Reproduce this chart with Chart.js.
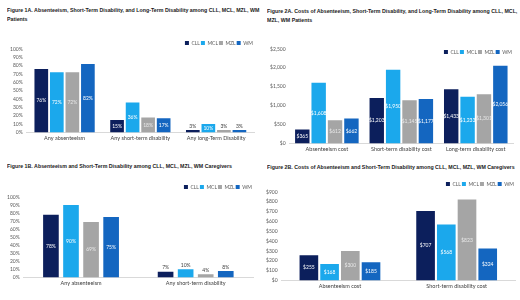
<!DOCTYPE html>
<html>
<head>
<meta charset="utf-8">
<script src="https://cdn.jsdelivr.net/npm/chart.js@4.4.0/dist/chart.umd.min.js"></script>
<style>
  html, body { margin: 0; padding: 0; background: #fff; }
  body { width: 520px; height: 300px; position: relative; overflow: hidden; }
  .title {
    position: absolute; font-family: "Liberation Sans", sans-serif;
    font-weight: bold; font-size: 6px; line-height: 8.5px; color: #1a1a1a; white-space: nowrap;
    transform: scaleX(0.88); transform-origin: left top;
  }
  .box { position: absolute; }
</style>
</head>
<body>
<div class="title" style="left:7px; top:6px;">Figure 1A. Absenteeism, Short-Term Disability, and Long-Term Disability among CLL, MCL, MZL, WM<br>Patients</div>
<div class="title" style="left:267px; top:7px;">Figure 2A. Costs of Absenteeism, Short-Term Disability, and Long-Term Disability among CLL, MCL,<br>MZL, WM Patients</div>
<div class="title" style="left:7px; top:162px;">Figure 1B. Absenteeism and Short-Term Disability among CLL, MCL, MZL, WM Caregivers</div>
<div class="title" style="left:267px; top:163px;">Figure 2B. Costs of Absenteeism and Short-Term Disability among CLL, MCL, MZL, WM Caregivers</div>

<div class="box" style="left:0px; top:33px; width:260px; height:112px;"><canvas id="c1a"></canvas></div>
<div class="box" style="left:260px; top:33px; width:260px; height:123px;"><canvas id="c2a"></canvas></div>
<div class="box" style="left:0px; top:181px; width:260px; height:109px;"><canvas id="c1b"></canvas></div>
<div class="box" style="left:260px; top:176px; width:260px; height:117px;"><canvas id="c2b"></canvas></div>

<script>
const series = ["CLL", "MCL", "MZL", "WM"];
const colors = ["#0c1f5c", "#1ba8ec", "#a5a5a5", "#1466c0"];
const labelColors = ["#ffffff", "#ffffff", "#e8e8e8", "#ffffff"];

// Figure 1A - patients, % with any absence / disability
const cats1A = ["Any absenteeism", "Any short-term disability", "Any long-Term Disability"];
const cll1A = [76, 15, 3];
const mcl1A = [72, 36, 10];
const mzl1A = [72, 18, 3];
const wm1A = [82, 17, 3];

// Figure 2A - patients, costs
const cats2A = ["Absenteeism cost", "Short-term disability cost", "Long-term disability cost"];
const cll2A = [365, 1203, 1433];
const mcl2A = [1608, 1950, 1233];
const mzl2A = [612, 1145, 1301];
const wm2A = [662, 1177, 2056];

// Figure 1B - caregivers, %
const cats1B = ["Any absenteeism", "Any short-term disability"];
const cll1B = [78, 7];
const mcl1B = [90, 10];
const mzl1B = [69, 4];
const wm1B = [75, 8];

// Figure 2B - caregivers, costs
const cats2B = ["Absenteeism cost", "Short-term disability cost"];
const cll2B = [255, 707];
const mcl2B = [168, 568];
const mzl2B = [300, 823];
const wm2B = [185, 324];

const pctFmt = v => v + "%";
const usdFmt = v => "$" + v.toLocaleString("en-US");

// draws the value labels: centred in the bar, or just above it when the bar is short
const barLabels = {
    id: "barLabels",
    afterDatasetsDraw(chart, args, opts) {
        const ctx = chart.ctx;
        ctx.save();
        ctx.font = "5px Lato";
        ctx.textAlign = "center";
        ctx.textBaseline = "middle";
        chart.data.datasets.forEach((ds, di) => {
            const meta = chart.getDatasetMeta(di);
            meta.data.forEach((bar, i) => {
                const v = ds.data[i];
                const txt = opts.fmt(v);
                if (v >= opts.insideMin) {
                    ctx.fillStyle = labelColors[di];
                    ctx.fillText(txt, bar.x, (bar.y + bar.base) / 2);
                } else {
                    ctx.fillStyle = "#404040";
                    ctx.fillText(txt, bar.x, bar.y - 4);
                }
            });
        });
        ctx.restore();
    }
};

// Excel puts the legend a bit lower than chart.js does; nudge it after layout
const legendNudge = {
    id: "legendNudge",
    afterLayout(chart, args, opts) {
        const lg = chart.legend;
        if (!lg || !opts.dy) return;
        lg.top += opts.dy;
        lg.bottom += opts.dy;
    }
};

function makeChart(id, cats, values, yMax, yStep, fmt, opt) {
    const ctx = document.getElementById(id).getContext("2d");
    return new Chart(ctx, {
        type: "bar",
        data: {
            labels: cats,
            datasets: series.map((s, i) => ({
                label: s,
                data: values[i],
                backgroundColor: colors[i],
                categoryPercentage: opt.catPct,
                barPercentage: opt.barPct,
            })),
        },
        options: {
            responsive: true,
            maintainAspectRatio: false,
            animation: false,
            layout: { padding: opt.padding },
            plugins: {
                legend: {
                    display: true,
                    position: "top",
                    align: "end",
                    labels: {
                        boxWidth: 4, boxHeight: 4, padding: 1,
                        font: { family: "Lato", size: 5 }, color: "#595959",
                    },
                },
                tooltip: { enabled: false },
                barLabels: { fmt: fmt, insideMin: opt.insideMin },
                legendNudge: { dy: opt.legendDy },
            },
            scales: {
                x: {
                    grid: { display: false, drawTicks: false, tickLength: 0 },
                    border: { display: true, color: "#d9d9d9" },
                    ticks: { font: { family: "Lato", size: 5.5 }, color: "#404040", padding: 3 },
                },
                y: {
                    min: 0, max: yMax,
                    grid: { display: false, drawTicks: false, tickLength: 0 },
                    border: { display: false },
                    ticks: {
                        stepSize: yStep, autoSkip: false,
                        font: { family: "Lato", size: 5 }, color: "#595959", padding: 4,
                        callback: v => fmt(v),
                    },
                },
            },
        },
        plugins: [barLabels, legendNudge],
    });
}

makeChart("c1a", cats1A, [cll1A, mcl1A, mzl1A, wm1A], 100, 10, pctFmt,
    { catPct: 0.82, barPct: 0.88, legendDy: 6.5, insideMin: 10, padding: { left: 6, right: 6, top: 0, bottom: 0 } });
makeChart("c2a", cats2A, [cll2A, mcl2A, mzl2A, wm2A], 2500, 500, usdFmt,
    { catPct: 0.88, barPct: 0.88, legendDy: 15.5, insideMin: 200, padding: { left: 6, right: 7, top: 0, bottom: 0 } });
makeChart("c1b", cats1B, [cll1B, mcl1B, mzl1B, wm1B], 100, 10, pctFmt,
    { catPct: 0.7, barPct: 0.78, legendDy: 2.5, insideMin: 50, padding: { left: 3, right: 7, top: 0, bottom: 0 } });
makeChart("c2b", cats2B, [cll2B, mcl2B, mzl2B, wm2B], 900, 100, usdFmt,
    { catPct: 0.71, barPct: 0.9, legendDy: 4.5, insideMin: 100, padding: { left: 2, right: 5, top: 0, bottom: 0 } });
</script>
</body>
</html>
